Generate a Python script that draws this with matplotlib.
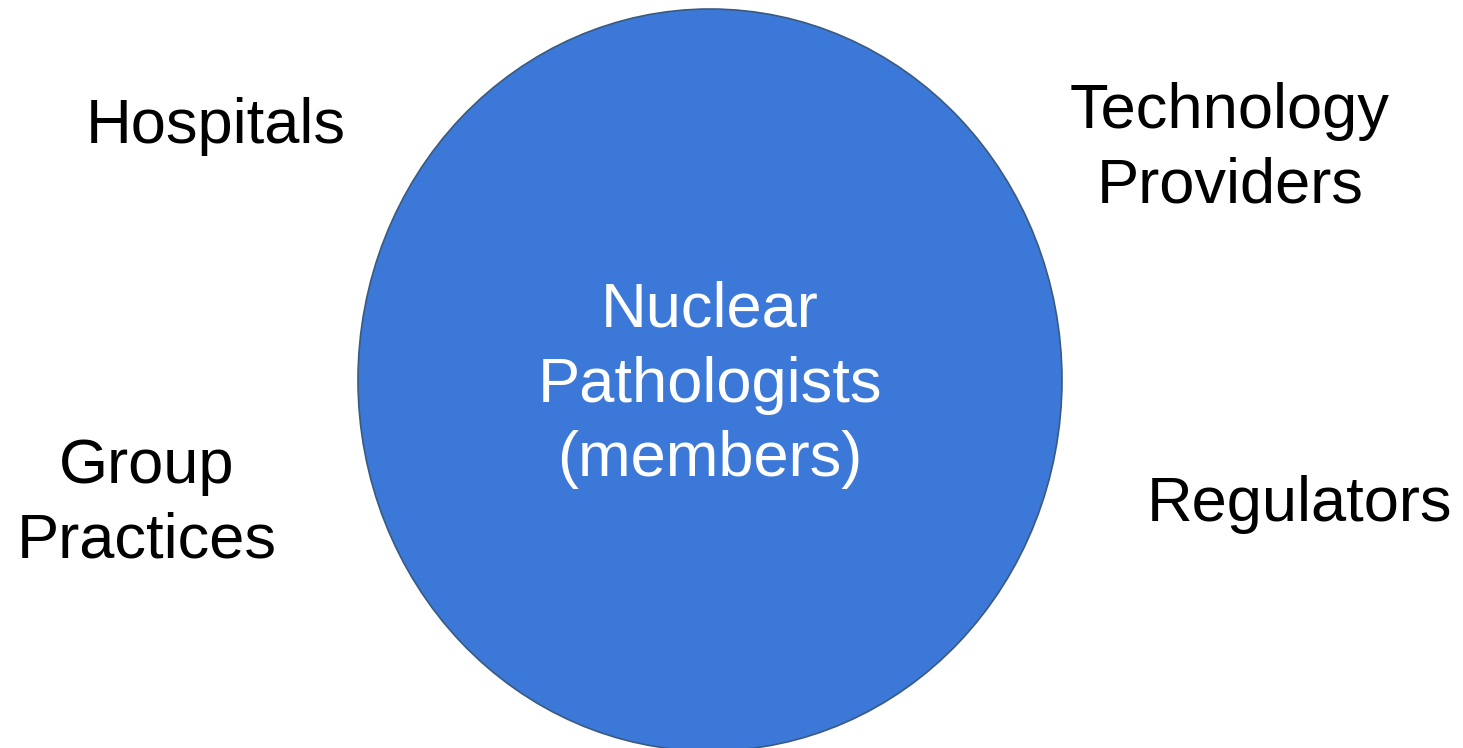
import matplotlib.pyplot as plt
from matplotlib.patches import Ellipse

# labels around the circle
center_label = "Nuclear\nPathologists\n(members)"
outer_labels = ["Hospitals", "Technology\nProviders", "Group\nPractices", "Regulators"]
outer_xy = [(216, 126), (1230, 149), (147, 504), (1299, 504)]

fig = plt.figure(figsize=(14.63, 7.48), dpi=100)
ax = fig.add_axes([0, 0, 1, 1])
ax.set_xlim(0, 1463)
ax.set_ylim(748, 0)
ax.axis('off')

circle = Ellipse((710, 380), 704, 742, facecolor='#3C78D8', edgecolor='#3A5A80', linewidth=1.2)
ax.add_patch(circle)

font = 'Liberation Sans'
ax.text(710, 385, center_label, ha='center', va='center', color='white',
        fontsize=45.5, family=font, linespacing=1.34)

for label, (x, y) in zip(outer_labels, outer_xy):
    ax.text(x, y, label, ha='center', va='center', color='black',
            fontsize=45.5, family=font, linespacing=1.34)

fig.savefig('out.png', dpi=100)
